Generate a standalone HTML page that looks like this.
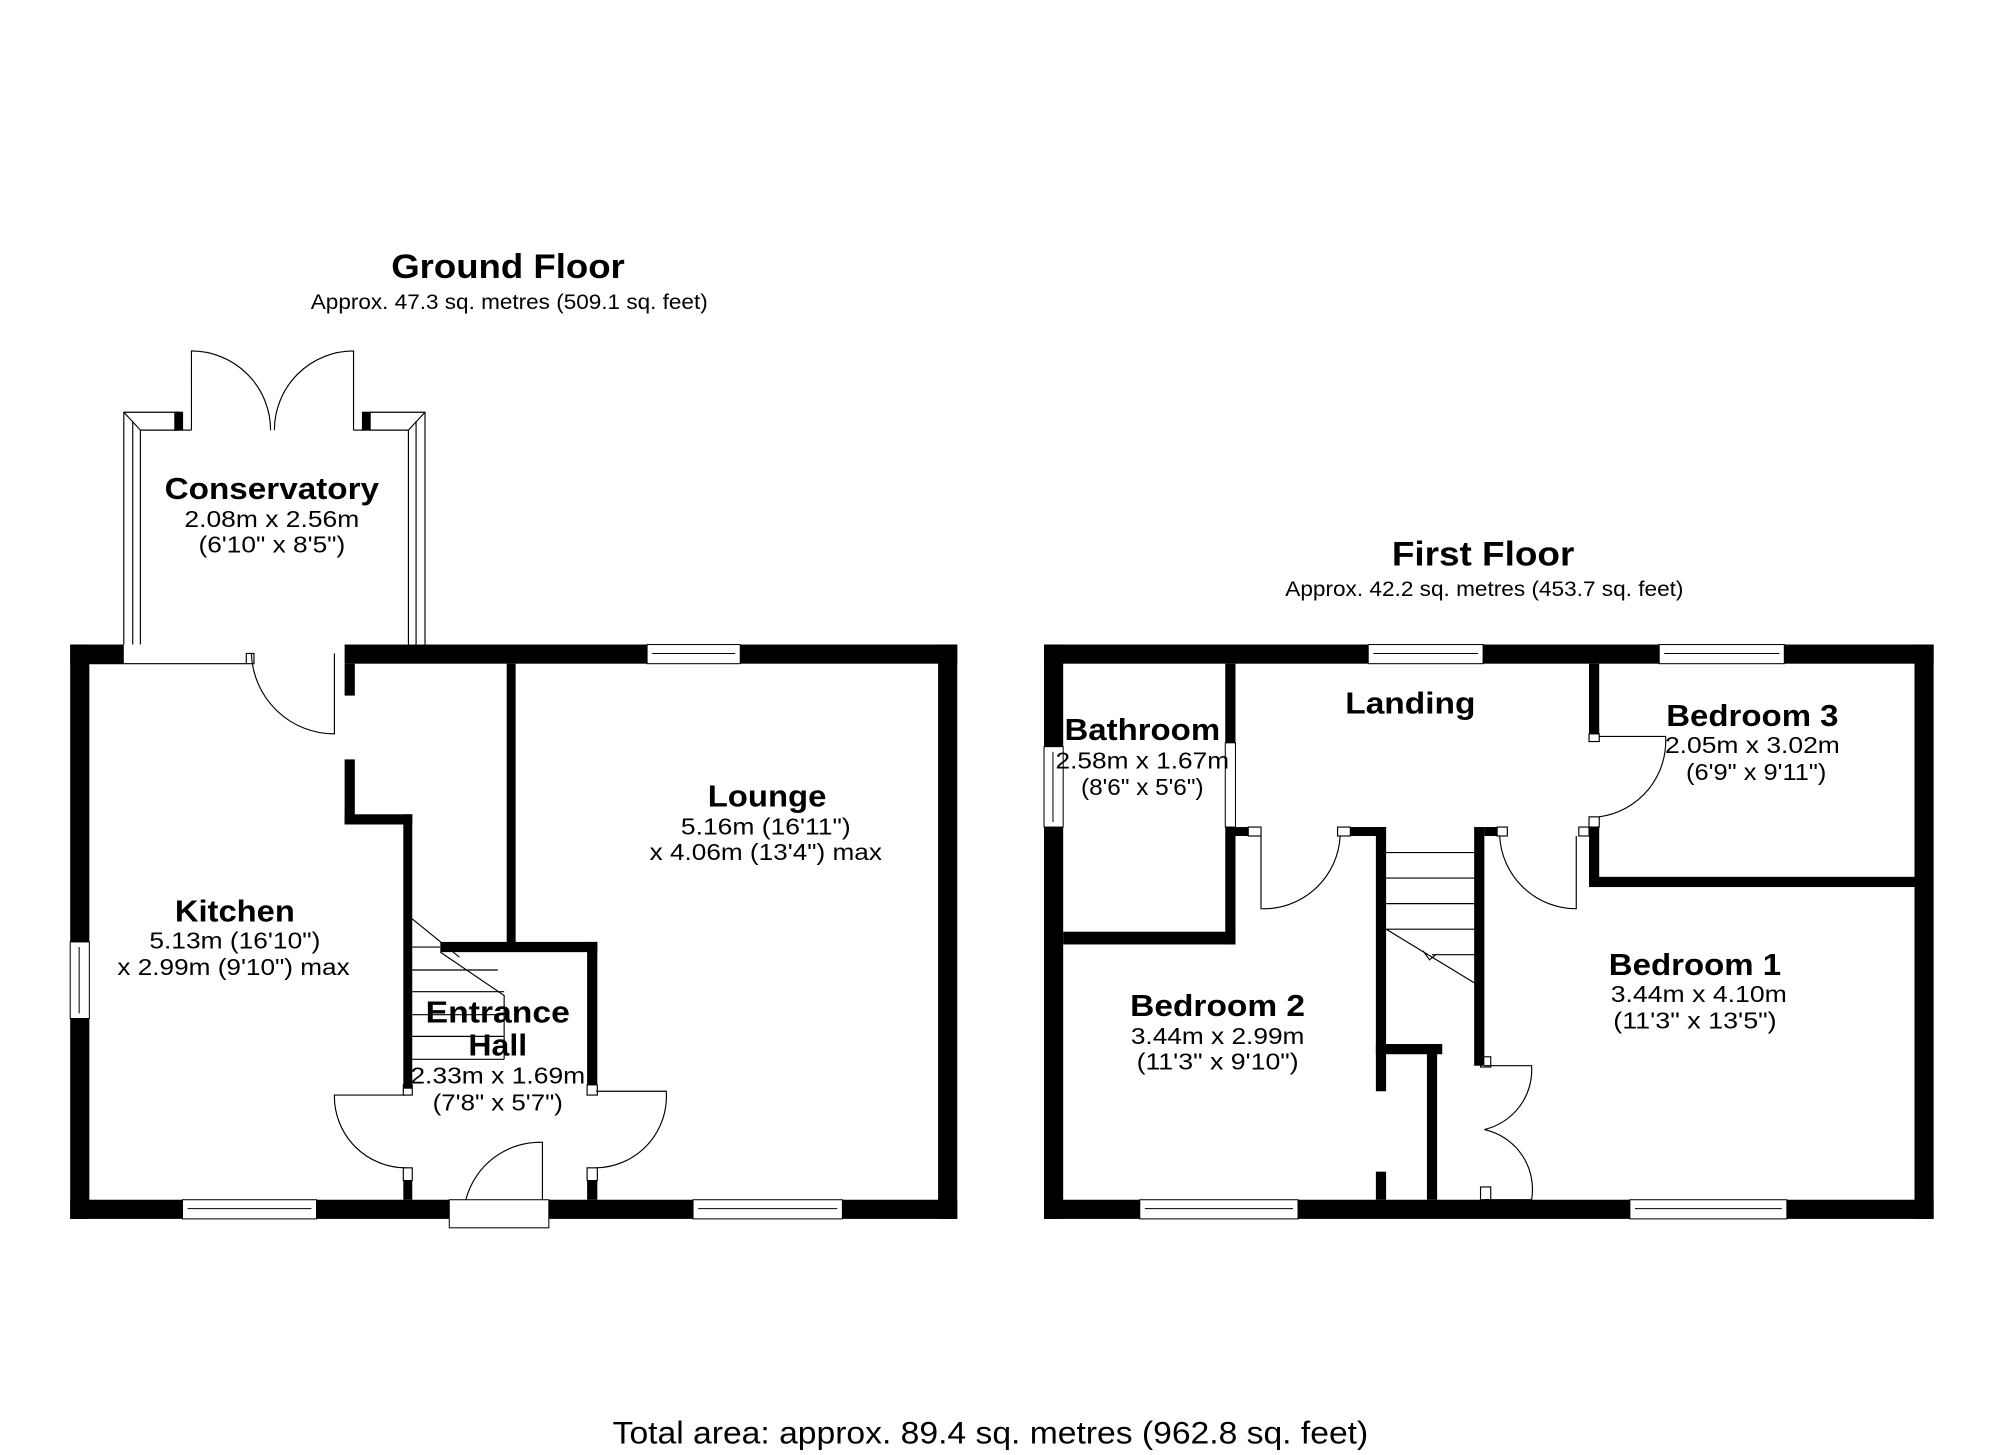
<!DOCTYPE html>
<html><head><meta charset="utf-8"><style>
html,body{margin:0;padding:0;background:#fff}
svg{display:block}
text{font-family:"Liberation Sans",Arial,sans-serif;fill:#000}
.b{font-weight:bold;font-size:24px}
.n{font-size:18px}
.t{font-weight:bold;font-size:27px}
.s{font-size:16.5px}
</style></head><body>
<svg width="2000" height="1455" viewBox="0 0 1567 1140" preserveAspectRatio="none" xmlns="http://www.w3.org/2000/svg">
<g fill="#000">
<rect x="55" y="505" width="42" height="15"/>
<rect x="270" y="505" width="480" height="15"/>
<rect x="55" y="505" width="15" height="450"/>
<rect x="735" y="505" width="15" height="450"/>
<rect x="55" y="940" width="297" height="15"/>
<rect x="430" y="940" width="320" height="15"/>
<rect x="270" y="520" width="8" height="25"/>
<rect x="270" y="595" width="8" height="50"/>
<rect x="270" y="638" width="53" height="8"/>
<rect x="316" y="638" width="7" height="215"/>
<rect x="397" y="520" width="7" height="222"/>
<rect x="345" y="738" width="123" height="8"/>
<rect x="460" y="738" width="8" height="112"/>
<rect x="316" y="925" width="7" height="15"/>
<rect x="460" y="925" width="8" height="15"/>
<rect x="818" y="505" width="697" height="15"/>
<rect x="818" y="505" width="15" height="450"/>
<rect x="1500" y="505" width="15" height="450"/>
<rect x="818" y="940" width="697" height="15"/>
<rect x="960" y="520" width="8" height="62"/>
<rect x="960" y="648" width="8" height="92"/>
<rect x="833" y="730" width="135" height="10"/>
<rect x="968" y="648" width="10" height="7"/>
<rect x="1058" y="648" width="28" height="7"/>
<rect x="1078" y="648" width="8" height="207"/>
<rect x="1078" y="818" width="52" height="8"/>
<rect x="1078" y="918" width="8" height="22"/>
<rect x="1118" y="818" width="8" height="122"/>
<rect x="1155" y="648" width="8" height="187"/>
<rect x="1163" y="648" width="10" height="7"/>
<rect x="1245" y="648" width="8" height="47"/>
<rect x="1245" y="520" width="8" height="55"/>
<rect x="1245" y="687" width="255" height="8"/>
</g>
<g fill="#fff" stroke="#000" stroke-width="0.8">
<rect x="143" y="940" width="105" height="15"/><line x1="147" y1="947" x2="244" y2="947"/>
<rect x="543" y="940" width="117" height="15"/><line x1="547" y1="947" x2="656" y2="947"/>
<rect x="507" y="505" width="73" height="15"/><line x1="511" y1="512" x2="576" y2="512"/>
<rect x="55" y="738" width="15" height="60"/><line x1="62" y1="742" x2="62" y2="794"/>
<rect x="352" y="940" width="78" height="22"/>
<rect x="1072" y="505" width="90" height="15"/><line x1="1076" y1="512" x2="1158" y2="512"/>
<rect x="1300" y="505" width="98" height="15"/><line x1="1304" y1="512" x2="1394" y2="512"/>
<rect x="893" y="940" width="124" height="15"/><line x1="897" y1="947" x2="1013" y2="947"/>
<rect x="1277" y="940" width="123" height="15"/><line x1="1281" y1="947" x2="1396" y2="947"/>
<rect x="818" y="585" width="15" height="63"/><line x1="825" y1="589" x2="825" y2="644"/>
<rect x="960" y="582" width="8" height="66"/>
</g>
<g fill="none" stroke="#000" stroke-width="0.9">
<path d="M97 505 V323 H140 M110 505 V337 H140 M104 505 V330"/>
<path d="M333 505 V323 H290 M320 505 V337 H290 M326 505 V330"/>
<path d="M97 323 L110 337 M333 323 L320 337"/>
<rect x="137" y="323" width="6" height="14" fill="#000"/>
<rect x="284" y="323" width="6" height="14" fill="#000"/>
<path d="M150 337 V275 A62 62 0 0 1 212 337"/>
<path d="M277 337 V275 A62 62 0 0 0 215 337"/>
<line x1="143" y1="337" x2="150" y2="337"/><line x1="277" y1="337" x2="284" y2="337"/>
<line x1="70" y1="520" x2="193" y2="520"/>
<path d="M262 512 V575 A65 65 0 0 1 197 512"/>
<rect x="193" y="512" width="6" height="8"/>
<path d="M323 720 L360 750 M323 742 H345 M323 760 H390 M323 777 H395 M323 795 H395 M323 812 H395 M323 830 H395 M345 746 L395 780 V830"/>
<path d="M318 858 H262 A56 56 0 0 0 318 915"/>
<path d="M467 855 H522 A56 56 0 0 1 467 915"/>
<path d="M425 940 V895 A60 60 0 0 0 365 940"/>
<rect x="316" y="850" width="7" height="8"/><rect x="316" y="915" width="7" height="10"/>
<rect x="460" y="850" width="8" height="8"/><rect x="460" y="915" width="8" height="10"/>
<path d="M988 655 V712 A60 60 0 0 0 1050 655"/>
<rect x="978" y="648" width="10" height="7"/><rect x="1048" y="648" width="10" height="7"/>
<path d="M1235 655 V712 A60 60 0 0 1 1175 655"/>
<rect x="1173" y="648" width="8" height="7"/><rect x="1237" y="648" width="8" height="7"/>
<path d="M1253 577 H1305 A60 60 0 0 1 1253 640"/>
<rect x="1245" y="575" width="8" height="6"/><rect x="1245" y="640" width="8" height="8"/>
<path d="M1086 668 H1155 M1086 688 H1155 M1086 708 H1155 M1086 728 H1155 M1122 748 H1155 M1086 728 L1155 770 M1115 745 L1120 752 L1125 748"/>
<line x1="1159" y1="648" x2="1159" y2="770"/>
<path d="M1163 835 H1200 A48 48 0 0 1 1163 885"/>
<path d="M1163 940 H1200 A48 48 0 0 0 1163 885"/>
<rect x="1160" y="828" width="8" height="8"/><rect x="1160" y="930" width="8" height="10"/>
</g>
<g text-anchor="middle">
<text class="t" x="398" y="218" textLength="183" lengthAdjust="spacingAndGlyphs">Ground Floor</text>
<text class="s" x="399" y="242" textLength="311" lengthAdjust="spacingAndGlyphs">Approx. 47.3 sq. metres (509.1 sq. feet)</text>
<text class="b" x="213" y="391" textLength="168" lengthAdjust="spacingAndGlyphs">Conservatory</text>
<text class="n" x="213" y="413" textLength="137" lengthAdjust="spacingAndGlyphs">2.08m x 2.56m</text>
<text class="n" x="213" y="433" textLength="115" lengthAdjust="spacingAndGlyphs">(6'10" x 8'5")</text>
<text class="b" x="184" y="722" textLength="94" lengthAdjust="spacingAndGlyphs">Kitchen</text>
<text class="n" x="184" y="743" textLength="134" lengthAdjust="spacingAndGlyphs">5.13m (16'10")</text>
<text class="n" x="183" y="764" textLength="182" lengthAdjust="spacingAndGlyphs">x 2.99m (9'10") max</text>
<text class="b" x="601" y="632" textLength="93" lengthAdjust="spacingAndGlyphs">Lounge</text>
<text class="n" x="600" y="654" textLength="133" lengthAdjust="spacingAndGlyphs">5.16m (16'11")</text>
<text class="n" x="600" y="674" textLength="182" lengthAdjust="spacingAndGlyphs">x 4.06m (13'4") max</text>
<text class="b" x="390" y="801" textLength="113" lengthAdjust="spacingAndGlyphs">Entrance</text>
<text class="b" x="390" y="827" textLength="46" lengthAdjust="spacingAndGlyphs">Hall</text>
<text class="n" x="390" y="849" textLength="137" lengthAdjust="spacingAndGlyphs">2.33m x 1.69m</text>
<text class="n" x="390" y="870" textLength="102" lengthAdjust="spacingAndGlyphs">(7'8" x 5'7")</text>
<text class="t" x="1162" y="443" textLength="143" lengthAdjust="spacingAndGlyphs">First Floor</text>
<text class="s" x="1163" y="467" textLength="312" lengthAdjust="spacingAndGlyphs">Approx. 42.2 sq. metres (453.7 sq. feet)</text>
<text class="b" x="895" y="580" textLength="122" lengthAdjust="spacingAndGlyphs">Bathroom</text>
<text class="n" x="895" y="602" textLength="136" lengthAdjust="spacingAndGlyphs">2.58m x 1.67m</text>
<text class="n" x="895" y="623" textLength="96" lengthAdjust="spacingAndGlyphs">(8'6" x 5'6")</text>
<text class="b" x="1105" y="559" textLength="102" lengthAdjust="spacingAndGlyphs">Landing</text>
<text class="b" x="1373" y="569" textLength="135" lengthAdjust="spacingAndGlyphs">Bedroom 3</text>
<text class="n" x="1373" y="590" textLength="137" lengthAdjust="spacingAndGlyphs">2.05m x 3.02m</text>
<text class="n" x="1376" y="611" textLength="110" lengthAdjust="spacingAndGlyphs">(6'9" x 9'11")</text>
<text class="b" x="1328" y="764" textLength="135" lengthAdjust="spacingAndGlyphs">Bedroom 1</text>
<text class="n" x="1331" y="785" textLength="138" lengthAdjust="spacingAndGlyphs">3.44m x 4.10m</text>
<text class="n" x="1328" y="806" textLength="128" lengthAdjust="spacingAndGlyphs">(11'3" x 13'5")</text>
<text class="b" x="954" y="796" textLength="137" lengthAdjust="spacingAndGlyphs">Bedroom 2</text>
<text class="n" x="954" y="818" textLength="136" lengthAdjust="spacingAndGlyphs">3.44m x 2.99m</text>
<text class="n" x="954" y="838" textLength="127" lengthAdjust="spacingAndGlyphs">(11'3" x 9'10")</text>
<text x="776" y="1131" style="font-size:25px" textLength="592" lengthAdjust="spacingAndGlyphs">Total area: approx. 89.4 sq. metres (962.8 sq. feet)</text>
</g>
</svg>
</body></html>
